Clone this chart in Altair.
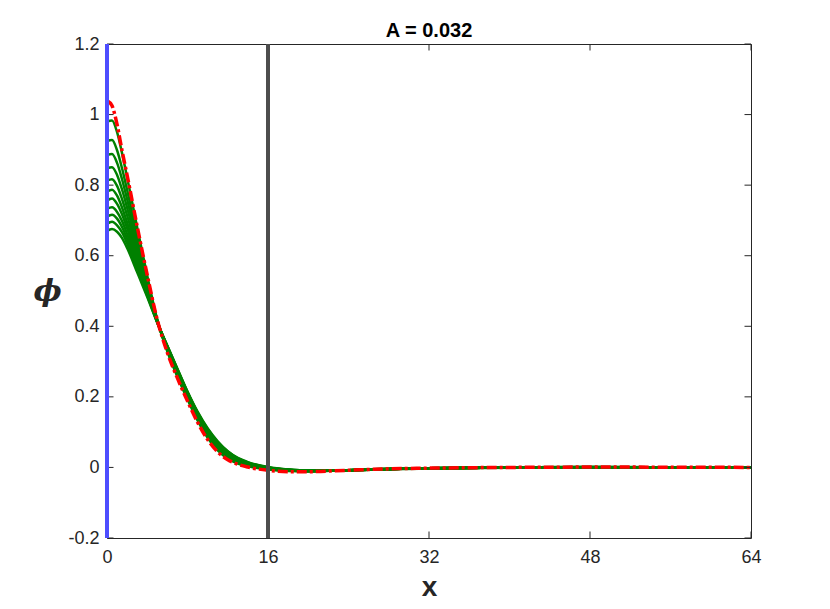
import altair as alt
import pandas as pd

# ---------------- data ----------------
x_vals = [0, 0.5, 1, 1.5, 2, 3, 4, 5, 6, 7, 8, 9, 10, 11, 12, 13, 14, 16, 18, 20, 24, 28, 32, 40, 48, 64]

red_final = [1.040, 1.025, 0.972, 0.897, 0.828, 0.683, 0.545, 0.418, 0.325, 0.253, 0.188, 0.128, 0.079,
             0.044, 0.022, 0.009, 0.001, -0.008, -0.012, -0.012, -0.008, -0.004, -0.002, 0.000, 0.001, 0.000]

green_980 = [0.980, 0.983, 0.950, 0.890, 0.822, 0.680, 0.543, 0.418, 0.328, 0.257, 0.193, 0.133, 0.084,
             0.048, 0.025, 0.011, 0.003, -0.006, -0.010, -0.011, -0.008, -0.004, -0.002, 0.000, 0.001, 0.000]
green_925 = [0.925, 0.928, 0.899, 0.847, 0.786, 0.657, 0.532, 0.417, 0.331, 0.261, 0.197, 0.138, 0.089,
             0.053, 0.029, 0.014, 0.005, -0.005, -0.009, -0.011, -0.008, -0.004, -0.002, 0.000, 0.001, 0.000]
green_885 = [0.885, 0.888, 0.863, 0.816, 0.760, 0.641, 0.524, 0.416, 0.333, 0.264, 0.200, 0.141, 0.092,
             0.056, 0.032, 0.016, 0.007, -0.004, -0.009, -0.010, -0.008, -0.004, -0.002, 0.000, 0.001, 0.000]
green_848 = [0.848, 0.851, 0.829, 0.787, 0.736, 0.625, 0.517, 0.415, 0.335, 0.267, 0.202, 0.144, 0.096,
             0.059, 0.034, 0.018, 0.008, -0.003, -0.008, -0.010, -0.008, -0.005, -0.002, 0.000, 0.000, 0.000]
green_813 = [0.813, 0.817, 0.798, 0.760, 0.714, 0.611, 0.511, 0.414, 0.337, 0.269, 0.205, 0.147, 0.099,
             0.062, 0.036, 0.020, 0.009, -0.002, -0.008, -0.010, -0.008, -0.005, -0.002, 0.000, 0.000, 0.000]
green_782 = [0.782, 0.787, 0.770, 0.736, 0.694, 0.599, 0.505, 0.413, 0.339, 0.272, 0.207, 0.149, 0.101,
             0.065, 0.038, 0.021, 0.011, -0.002, -0.007, -0.010, -0.008, -0.005, -0.002, 0.000, 0.000, 0.000]
green_756 = [0.756, 0.762, 0.747, 0.717, 0.678, 0.589, 0.500, 0.412, 0.340, 0.274, 0.209, 0.151, 0.103,
             0.067, 0.040, 0.023, 0.012, -0.001, -0.007, -0.009, -0.008, -0.005, -0.002, 0.000, 0.000, 0.000]
green_733 = [0.733, 0.737, 0.724, 0.698, 0.662, 0.578, 0.495, 0.412, 0.342, 0.275, 0.211, 0.153, 0.106,
             0.069, 0.042, 0.024, 0.013, -0.001, -0.007, -0.009, -0.008, -0.005, -0.002, 0.000, 0.000, 0.000]
green_711 = [0.711, 0.716, 0.705, 0.681, 0.648, 0.570, 0.491, 0.411, 0.343, 0.277, 0.212, 0.155, 0.107,
             0.071, 0.043, 0.025, 0.013, 0.000, -0.006, -0.009, -0.008, -0.005, -0.002, 0.000, 0.000, 0.000]
green_690 = [0.690, 0.696, 0.686, 0.666, 0.635, 0.561, 0.487, 0.410, 0.344, 0.278, 0.214, 0.156, 0.109,
             0.072, 0.045, 0.026, 0.014, 0.000, -0.006, -0.009, -0.008, -0.005, -0.002, 0.000, 0.000, 0.000]
green_670 = [0.670, 0.676, 0.668, 0.650, 0.622, 0.553, 0.483, 0.410, 0.345, 0.280, 0.215, 0.158, 0.111,
             0.074, 0.046, 0.027, 0.015, 0.001, -0.006, -0.009, -0.008, -0.005, -0.003, -0.001, 0.000, 0.000]

blue_x = [0]
gray_x = [16]
x_ticks = [0, 16, 32, 48, 64]
y_ticks = [-0.2, 0, 0.2, 0.4, 0.6, 0.8, 1, 1.2]
title_text = ["A = 0.032"]

# ---------------- tables ----------------
greens = [green_980, green_925, green_885, green_848, green_813, green_782,
          green_756, green_733, green_711, green_690, green_670]
rows = []
for k, g in enumerate(greens):
    for xv, vv in zip(x_vals, g):
        rows.append({"x": xv, "v": vv, "series": k})
green_df = pd.DataFrame(rows)
red_df = pd.DataFrame({"x": x_vals, "v": red_final})
blue_df = pd.DataFrame({"x": blue_x})
gray_df = pd.DataFrame({"x": gray_x})
xt_df = pd.DataFrame({"x": x_ticks})
yt_df = pd.DataFrame({"v": y_ticks})
title_df = pd.DataFrame({"t": title_text})

W, H = 644, 494
xs = alt.Scale(domain=[0, 64], nice=False, zero=False)
ys = alt.Scale(domain=[-0.2, 1.2], nice=False, zero=False)
AX = "#262626"

x_axis = alt.Axis(values=x_ticks, title="x", titleFontSize=28, titleFontWeight="bold",
                  titleFont="Liberation Sans", titleColor=AX,
                  titleX=W / 2, titleY=63, titleBaseline="bottom", titleAlign="center",
                  labelPadding=10, labelFont="Liberation Sans", labelFontSize=18, labelColor=AX,
                  labelFlush=False, domain=False, ticks=False, grid=False)
y_axis = alt.Axis(values=y_ticks, title="ϕ", titleFontSize=30, titleFontWeight="bold",
                  titleFontStyle="italic", titleFont="DejaVu Serif", titleColor=AX,
                  titleAngle=0, titleX=-60, titleY=H / 2, titleAlign="center", titleBaseline="middle",
                  labelPadding=8, labelFont="Liberation Sans", labelFontSize=18, labelColor=AX,
                  labelExpr="toString(round(datum.value*10)/10)",
                  labelFlush=False, domain=False, ticks=False, grid=False)

X = alt.X("x:Q", scale=xs, axis=x_axis)
Y = alt.Y("v:Q", scale=ys, axis=y_axis)

green_layer = alt.Chart(green_df).mark_line(color="#008000", strokeWidth=2.5, interpolate="monotone").encode(
    x=X, y=Y, detail="series:N",
)
red_layer = alt.Chart(red_df).mark_line(color="#ff0000", strokeWidth=3.5, strokeDash=[10, 3, 3, 3],
                                        interpolate="monotone").encode(x=X, y=Y)
blue_layer = alt.Chart(blue_df).mark_rule(color="#4d4dff", strokeWidth=4).encode(x=X)
gray_layer = alt.Chart(gray_df).mark_rule(color="#4d4d4d", strokeWidth=4).encode(x=X)

tick_len = 6.5
left_ticks = alt.Chart(yt_df).mark_rule(color=AX, strokeWidth=1).encode(
    y=Y, x=alt.value(0), x2=alt.value(tick_len))
right_ticks = alt.Chart(yt_df).mark_rule(color=AX, strokeWidth=1).encode(
    y=Y, x=alt.value(W), x2=alt.value(W - tick_len))
bottom_ticks = alt.Chart(xt_df).mark_rule(color=AX, strokeWidth=1).encode(
    x=X, y=alt.value(H), y2=alt.value(H - tick_len))
top_ticks = alt.Chart(xt_df).mark_rule(color=AX, strokeWidth=1).encode(
    x=X, y=alt.value(0), y2=alt.value(tick_len))

title_layer = alt.Chart(title_df).mark_text(
    font="Liberation Sans", fontSize=20, fontWeight="bold", color="black",
    align="center", baseline="alphabetic"
).encode(text="t:N", x=alt.value(W / 2), y=alt.value(-7))

chart = alt.layer(
    green_layer, red_layer, left_ticks, right_ticks, bottom_ticks, top_ticks, blue_layer, gray_layer,
    title_layer
).properties(
    width=W, height=H,
    padding={"left": 99, "top": 36, "right": 71, "bottom": 63},
    autosize=alt.AutoSizeParams(type="none"),
).configure_view(
    stroke=AX, strokeWidth=1
)

chart.save("out.html", embed_options={"renderer": "svg", "actions": False})
